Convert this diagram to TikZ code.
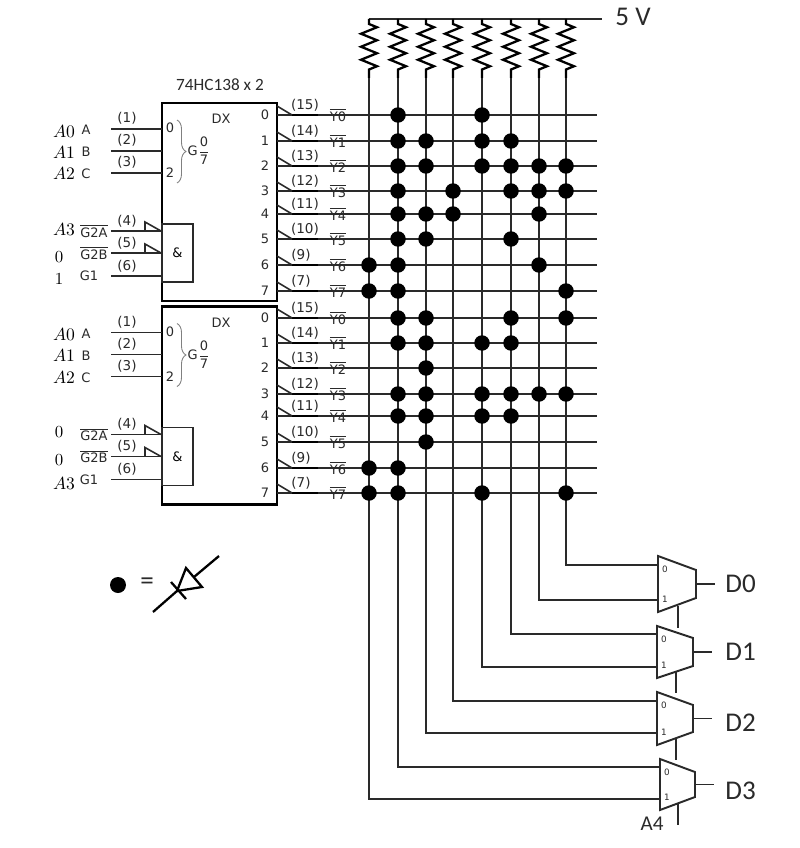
\documentclass[tikz,border=0pt]{standalone}
\usepackage{fontspec}
\usepackage{tikz}
\usetikzlibrary{calc,decorations.pathmorphing,decorations.pathreplacing}
\newfontfamily\chipfont{DejaVu Sans}
\newfontfamily\notefont{Carlito}
\newcommand{\barlbl}[1]{$\overline{\hbox{#1}}$}
\definecolor{wirec}{HTML}{2A2A2A}
\tikzset{
  wire/.style={draw=wirec,line width=0.9pt},
  stub/.style={draw=black,line width=1.1pt},
  chip/.style={draw=black,line width=1.2pt,minimum width=2.3cm,minimum height=3.96cm,anchor=north west,inner sep=0pt,outer sep=0pt},
  andbox/.style={draw=wirec,line width=0.7pt,minimum width=0.62cm,minimum height=1.16cm,inner sep=0pt,outer sep=0pt,font=\chipfont\fontsize{7.4}{8}\selectfont},
  pinlbl/.style={font=\chipfont\fontsize{7.4}{8}\selectfont,text=wirec,inner sep=0pt},
  pinno/.style={font=\chipfont\fontsize{7.7}{9}\selectfont,text=wirec,inner sep=0pt},
  addr/.style={font=\fontsize{9.6}{11}\selectfont,inner sep=0pt},
  note/.style={font=\notefont\fontsize{15.4}{18}\selectfont,text=wirec,inner sep=0pt},
  small note/.style={font=\notefont\fontsize{9.8}{12}\selectfont,text=wirec,inner sep=0pt},
  muxlbl/.style={font=\chipfont\fontsize{5}{6}\selectfont,text=wirec,inner sep=0pt},
  dot/.style={circle,fill=black,minimum size=0.31cm,inner sep=0pt},
  res/.style={draw=black,line width=1.3pt,decorate,decoration={zigzag,segment length=2.6mm,amplitude=1.6mm,pre=lineto,pre length=1mm,post=lineto,post length=1.2mm}},
}

\begin{document}
\begin{tikzpicture}[x=0.02cm,y=-0.02cm]
\useasboundingbox (0,0) rectangle (800,848);

% Rows and columns of the matrix
\foreach \c/\ys in {a/{115,141,166,191,214,239,265,291},b/{318,343,368,394,416,442,468,493}}
  \foreach \y [count=\i from 0] in \ys {
    \coordinate (row\c\i) at (277,\y);
    \coordinate (rowe\c\i) at (597,\y);
  }
\foreach \x [count=\k from 0] in {369,398,426,453,482,511,539,566} {
  \coordinate (bus\k) at (\x,19);
  \coordinate (colt\k) at (\x,78);
}

% Drawing 5 V rail and pull-ups
\coordinate (buse) at (602,19);
\node[note] (vcc) at (633,17) {5 V};
\draw[wire,line width=1.1pt] (bus0) -- (buse);
\foreach \k in {0,...,7}
  \draw[res] (bus\k) -- (colt\k);

% Drawing decoders
\node[small note] (title) at (220,85) {74HC138 x 2};
\foreach \c/\off in {a/0,b/203.5} {
  \begin{scope}[shift={(0,\off)}]
    \node[chip] (chip\c) at (162,103) {};
    \node[pinlbl] (dx\c) at (221,119) {DX};
    \node[pinlbl] (lo\c) at (170,128) {0};
    \node[pinlbl] (hi\c) at (170,173) {2};
    \node[pinlbl] (g\c) at (199,151) {G$\displaystyle\frac{\hbox{0}}{\hbox{7}}$};
    \draw[draw=gray,line width=0.5pt,decorate,decoration={brace,amplitude=1.8mm}] (177,120) -- (177,183);
    \node[andbox] (and\c) at (177.5,253) {\&};

    % Address pins
    \foreach \i/\y/\t in {1/129/A,2/151/B,3/173/C} {
      \coordinate (in\c\i) at (111,\y);
      \draw[wire] (in\c\i) -- (in\c\i -| chip\c.west);
      \node[pinno] (pn\c\i) at (127,\y-10.5) {(\i)};
      \node[pinlbl] (pt\c\i) at (86,\y+1) {\t};
    }

    % Enable pins
    \foreach \i/\y/\x/\t in {4/231/94/\barlbl{G2A},5/253/94/\barlbl{G2B},6/276/89/G1} {
      \coordinate (in\c\i) at (111,\y);
      \draw[wire] (in\c\i) -- (in\c\i -| chip\c.west);
      \node[pinno] (pn\c\i) at (127,\y-10) {(\i)};
      \node[pinlbl] (pt\c\i) at (\x,\y) {\t};
    }
    \draw[wire] (145,231) -- (145,222) -- (161,231);
    \draw[wire] (145,253) -- (145,244) -- (161,253);
  \end{scope}

  % Output pins
  \foreach \i/\pin/\x in {0/15/305,1/14/305,2/13/305,3/12/305,4/11/305,5/10/305,6/9/301,7/7/301} {
    \draw[wire] (row\c\i) -- (rowe\c\i);
    \draw[stub] ($(row\c\i)+(15,0)$) -- ($(row\c\i)+(41,0)$);
    \draw[wire] ($(row\c\i)+(0,-9)$) -- ($(row\c\i)+(15,0)$);
    \node[pinlbl] (dg\c\i) at ($(row\c\i)+(-12,0)$) {\i};
    \node[pinno] (on\c\i) at ($(row\c\i -| 0,0)+(\x,-9.5)$) {(\pin)};
    \node[pinlbl,fill=none] (yl\c\i) at ($(row\c\i)+(61,0)$) {\barlbl{Y\i}};
  }
}

% Address and enable levels
\foreach \nm/\x/\y/\t in {aa/64/131/$A0$,ab/64/152/$A1$,ac/64/173/$A2$,ad/64/229/$A3$,ae/59/257/0,af/59/279/1,
  ba/64/334/$A0$,bb/64/355/$A1$,bc/64/377/$A2$,bd/59/432/0,be/59/460/0,bf/64/483/$A3$}
  \node[addr] (lvl\nm) at (\x,\y) {\t};

% Drawing muxes
\foreach \n/\xl/\xr/\ytl/\ytr/\ybr/\ybl/\ia/\ib in {0/658/696/556/570/598/612/565/600,1/657/693/626/638/666/678/634/667,2/657/693/692/705/732/745/701/733,3/660/695/759/772/797/810/767/799} {
  \draw[wire,line width=1.1pt] (\xl,\ytl) -- (\xr,\ytr) -- (\xr,\ybr) -- (\xl,\ybl) -- cycle;
  \coordinate (mi\n a) at (\xl,\ia);
  \coordinate (mi\n b) at (\xl,\ib);
  \coordinate (mo\n) at (\xr,{(\ytr+\ybr)/2});
  \node[muxlbl] (ml\n a) at (\xl+7,\ytl+13) {0};
  \node[muxlbl] (ml\n b) at (\xl+7,\ybl-13) {1};
  \node[note,anchor=west] (d\n) at (725,{(\ytr+\ybr)/2+(\n==2)*4+(\n==3)*6}) {D\n};
  \draw[wire] (mo\n) -- ++(19,0);
}

% Connecting columns to mux inputs
\draw[wire] (colt7) |- (mi0a);
\draw[wire] (colt6) |- (mi0b);
\draw[wire] (colt5) |- (mi1a);
\draw[wire] (colt4) |- (mi1b);
\draw[wire] (colt3) |- (mi2a);
\draw[wire] (colt2) |- (mi2b);
\draw[wire] (colt1) |- (mi3a);
\draw[wire] (colt0) |- (mi3b);

% Select lines
\foreach \n/\x/\ya/\yb in {0/678/606/628,1/676/672/693,2/676/739/760,3/678/804/825} {
  \coordinate (sa\n) at (\x,\ya);
  \coordinate (sb\n) at (\x,\yb);
  \draw[wire,line width=1.1pt] (sa\n) -- (sb\n);
}
\node[font=\notefont\fontsize{12}{14}\selectfont,text=wirec,inner sep=0pt] (sel) at (652,824) {A4};

% Drawing diodes
\foreach \r/\cols in {a0/{1,4},a1/{1,2,4,5},a2/{1,2,4,5,6,7},a3/{1,3,5,6,7},a4/{1,2,3,6},a5/{1,2,5},a6/{0,1,6},a7/{0,1,7},
  b0/{1,2,5,7},b1/{1,2,4,5},b2/{2},b3/{1,2,4,5,6,7},b4/{1,2,4,5},b5/{2},b6/{0,1},b7/{0,1,4,7}}
  \foreach \k in \cols
    \node[dot] (d\r\k) at (colt\k |- row\r) {};

% Drawing legend
\node[dot,minimum size=0.32cm] (legdot) at (118,585) {};
\node[note] (legeq) at (147,584) {=};
\coordinate (dcath) at (177,591);
\coordinate (dtop) at (186,568);
\coordinate (dright) at (202,587);
\draw[line width=1.3pt] (dcath) -- (dtop) -- (dright) -- cycle;
\draw[line width=1.3pt] (153,612) -- (dcath);
\draw[line width=1.3pt] (171,582) -- (186,599);
\draw[line width=1.3pt] (194,577) -- (219,556);

\end{tikzpicture}
\end{document}
